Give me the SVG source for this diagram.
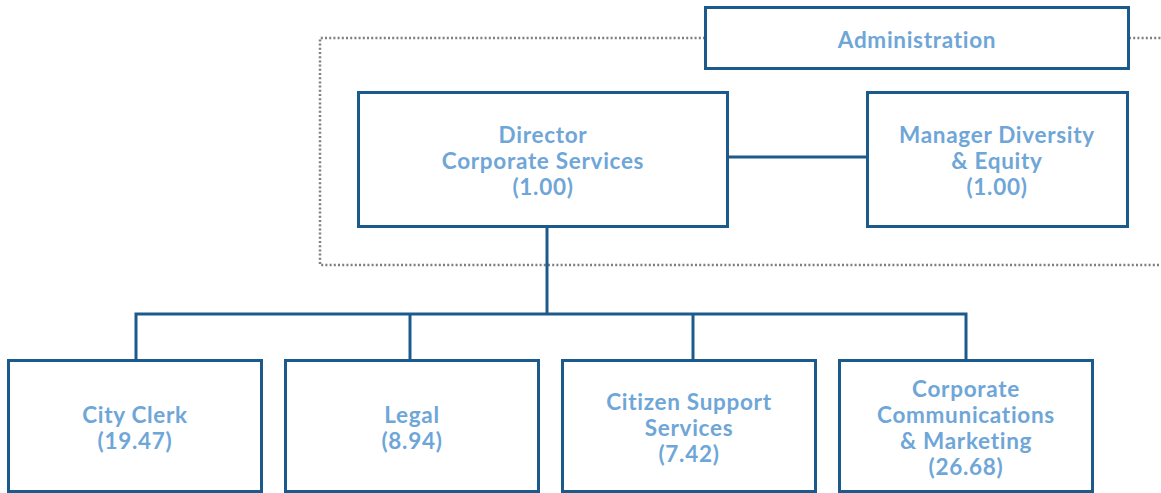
<svg xmlns="http://www.w3.org/2000/svg" width="1161" height="493" viewBox="0 0 1161 493">
<style>
.box{fill:#fff;stroke:#1d5a8c;stroke-width:3}
.con{fill:none;stroke:#1d5a8c;stroke-width:3}
.dot{fill:none;stroke:#7f7f7f;stroke-width:2.500;stroke-dasharray:2 2.200}
.t{font-family:Lato,"Open Sans","Liberation Sans",sans-serif;font-weight:700;font-size:22.500px;letter-spacing:0.700px;fill:#6fa6d8;text-anchor:middle}
</style>
<rect width="1161" height="493" fill="#fff"/>
<g id="admin-boundary">
<path class="dot" d="M705 38 H320 V265 H1161"/>
<path class="dot" d="M1129 38 H1161"/>
</g>
<g id="connectors">
<path class="con" d="M728 157 H867"/>
<path class="con" d="M547 227 V314"/>
<path class="con" d="M136 360 V314 H966 V360"/>
<path class="con" d="M410 314 V360"/>
<path class="con" d="M693 314 V360"/>
</g>
<g id="administration">
<rect class="box" x="705.500" y="7.500" width="423" height="61"/>
<text class="t" x="917" y="48">Administration</text>
</g>
<g id="director">
<rect class="box" x="358.500" y="92.500" width="369" height="134"/>
<text class="t" x="543" y="143">Director</text>
<text class="t" x="543" y="169">Corporate Services</text>
<text class="t" x="543" y="195">(1.00)</text>
</g>
<g id="manager">
<rect class="box" x="867.500" y="92.500" width="260" height="134"/>
<text class="t" x="997" y="143">Manager Diversity</text>
<text class="t" x="997" y="169">&amp; Equity</text>
<text class="t" x="997" y="195">(1.00)</text>
</g>
<g id="city-clerk">
<rect class="box" x="8.500" y="360.500" width="253" height="131"/>
<text class="t" x="135" y="423">City Clerk</text>
<text class="t" x="135" y="449">(19.47)</text>
</g>
<g id="legal">
<rect class="box" x="285.500" y="360.500" width="253" height="131"/>
<text class="t" x="412" y="423">Legal</text>
<text class="t" x="412" y="449">(8.94)</text>
</g>
<g id="citizen-support">
<rect class="box" x="562.500" y="360.500" width="253" height="131"/>
<text class="t" x="689" y="410">Citizen Support</text>
<text class="t" x="689" y="436">Services</text>
<text class="t" x="689" y="462">(7.42)</text>
</g>
<g id="corporate-comms">
<rect class="box" x="839.500" y="360.500" width="253" height="131"/>
<text class="t" x="966" y="397">Corporate</text>
<text class="t" x="966" y="423">Communications</text>
<text class="t" x="966" y="449">&amp; Marketing</text>
<text class="t" x="966" y="475">(26.68)</text>
</g>
</svg>
